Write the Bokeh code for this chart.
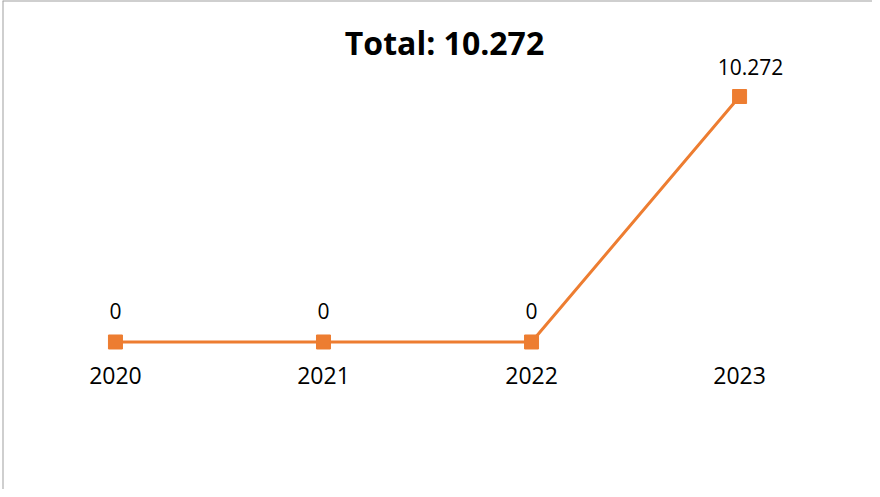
from bokeh.plotting import figure
from bokeh.models import ColumnDataSource, Span, Range1d
from bokeh.core.properties import value
from bokeh.embed import file_html
from bokeh.resources import INLINE

years = [2020, 2021, 2022, 2023]
year_labels = ["2020", "2021", "2022", "2023"]
escritos = [0, 0, 0, 10272]
value_labels = ["0", "0", "0", "10.272"]
title_text = "Total: 10.272"

ORANGE = "#ED7D31"
FONT = "Open Sans"

src = ColumnDataSource(dict(x=years, y=escritos))

x0, x1 = 2019.457, 2023.639
y0, y1 = -6172, 14289

p = figure(width=872, height=489, output_backend="svg", toolbar_location=None,
           x_range=Range1d(x0, x1), y_range=Range1d(y0, y1),
           x_axis_location=None, y_axis_location=None,
           min_border_left=2, min_border_right=0, min_border_top=0, min_border_bottom=0)
p.grid.visible = False
p.outline_line_color = None
p.background_fill_color = "white"
p.border_fill_color = "white"

# chart area border (left and top only visible)
p.add_layout(Span(location=x0, dimension="height", line_color="#A0A0A0", line_width=2))
p.add_layout(Span(location=y1, dimension="width", line_color="#A0A0A0", line_width=2))

p.line("x", "y", source=src, line_color=ORANGE, line_width=3)
p.scatter("x", "y", source=src, marker="square", size=14, fill_color=ORANGE, line_color=ORANGE)

# value labels
zsrc = ColumnDataSource(dict(x=years[:3], y=escritos[:3], t=value_labels[:3]))
lsrc = ColumnDataSource(dict(x=years[3:], y=escritos[3:], t=value_labels[3:]))
p.text("x", "y", text="t", source=zsrc, text_align="center", text_baseline="middle",
       y_offset=-31, text_font=value(FONT), text_font_size="21px", text_color="black")
p.text("x", "y", text="t", source=lsrc, text_align="center", text_baseline="middle",
       x_offset=11, y_offset=-30, text_font=value(FONT), text_font_size="21px", text_color="black")

# category labels (placed under the zero baseline, like Excel's axis labels)
ysrc = ColumnDataSource(dict(x=years, y=[0] * len(years), t=year_labels))
p.text("x", "y", text="t", source=ysrc, text_align="center", text_baseline="middle",
       y_offset=34, text_font=value(FONT), text_font_size="23px", text_color="black")

# title
tsrc = ColumnDataSource(dict(x=[(x0 + x1) / 2], y=[y1], t=[title_text]))
p.text("x", "y", text="t", source=tsrc, text_align="center", text_baseline="middle",
       x_offset=7, y_offset=42, text_font=value(FONT), text_font_size="32px",
       text_font_style="bold", text_color="black")

open("out.html", "w").write(file_html(p, INLINE))
